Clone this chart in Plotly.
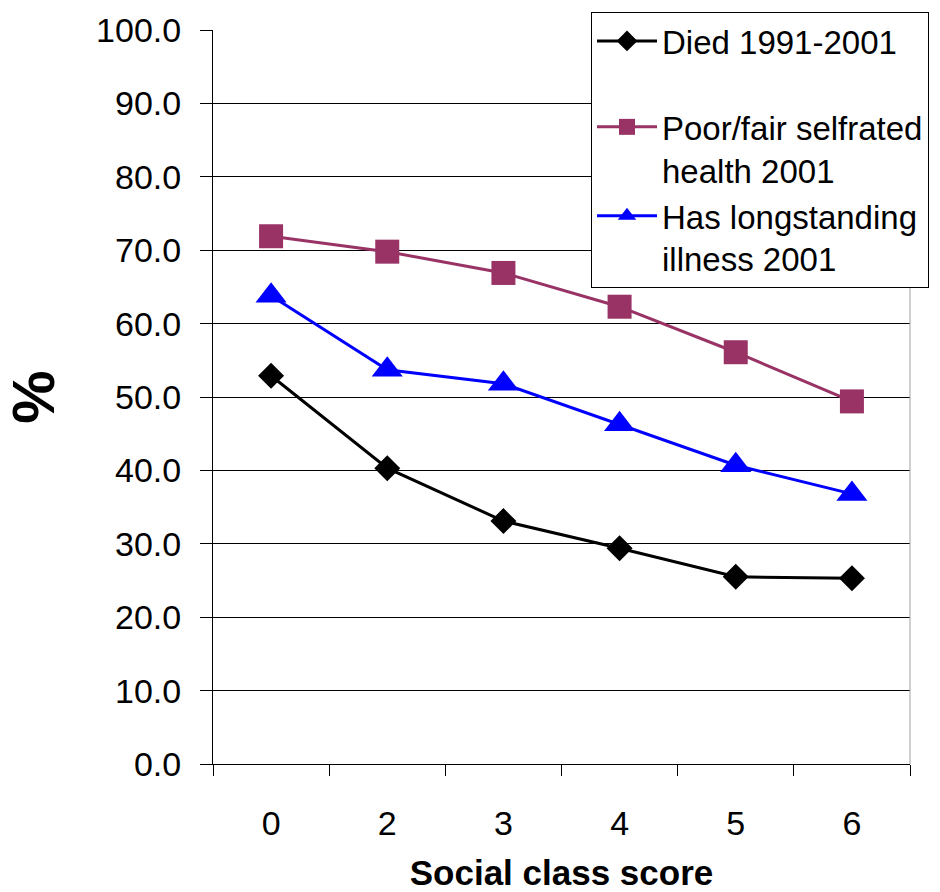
import plotly.graph_objects as go

categories = ["0", "2", "3", "4", "5", "6"]
died = [52.9, 40.3, 33.1, 29.4, 25.5, 25.3]
poor_health = [71.9, 69.8, 66.9, 62.3, 56.1, 49.4]
longstanding = [63.8, 53.7, 51.8, 46.3, 40.7, 36.8]

FONT = "Liberation Sans, Arial, sans-serif"

fig = go.Figure()
fig.add_trace(go.Scatter(
    x=categories, y=died, name="Died 1991-2001", mode="lines+markers",
    line=dict(color="#000000", width=3),
    marker=dict(symbol="diamond", size=20, color="#000000"),
    legendgroup="a",
))
fig.add_trace(go.Scatter(
    x=categories, y=poor_health, name="Poor/fair selfrated<br>health 2001", mode="lines+markers",
    line=dict(color="#993366", width=3),
    marker=dict(symbol="square", size=24, color="#993366"),
    legendgroup="b",
))
fig.add_trace(go.Scatter(
    x=categories, y=longstanding, name="Has longstanding<br>illness 2001", mode="lines+markers",
    line=dict(color="#0000FF", width=3),
    marker=dict(symbol="triangle-up", size=27, color="#0000FF"),
    legendgroup="b",
))

fig.update_layout(
    width=940, height=892,
    margin=dict(l=213, r=30, t=30, b=128, autoexpand=False),
    paper_bgcolor="white", plot_bgcolor="white",
    font=dict(family=FONT, size=34, color="black"),
    showlegend=True,
    legend=dict(
        x=591/940, xanchor="left", xref="container",
        y=1 - 12/892, yanchor="top", yref="container",
        bgcolor="white", bordercolor="#000000", borderwidth=1,
        font=dict(family=FONT, size=33, color="black"),
        valign="top", tracegroupgap=40, traceorder="grouped", itemwidth=60,
    ),
    xaxis=dict(
        type="category", range=[-0.5, 5.5], autorange=False,
        tickson="boundaries", ticks="outside", ticklen=11,
        tickcolor="black", tickwidth=1, showgrid=False,
        showline=True, linecolor="black", linewidth=1,
        tickfont=dict(size=34), ticklabelstandoff=29,
        title=dict(text="<b>Social class score</b>", font=dict(size=35), standoff=35),
    ),
    yaxis=dict(
        range=[0, 100], dtick=10, tickformat=".1f", ticks="outside", ticklen=12,
        tickcolor="black", tickwidth=1,
        showgrid=True, gridcolor="#000000", gridwidth=1,
        showline=True, linecolor="black", linewidth=1, zeroline=False,
        tickfont=dict(size=34), ticklabelstandoff=12,
        title=dict(text="<b>%</b>", font=dict(size=60), standoff=34),
    ),
    shapes=[dict(type="line", xref="paper", yref="paper", x0=1, x1=1, y0=0, y1=1,
                 line=dict(color="#A0A0A0", width=1))],
)

fig.write_html("out.html", config={"displayModeBar": False},
               post_script="document.body.style.margin='0';")
